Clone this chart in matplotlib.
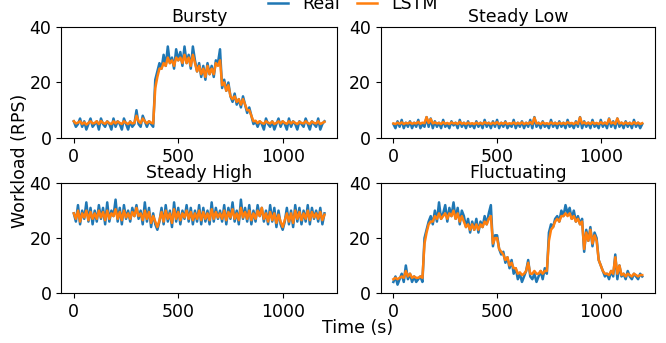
import numpy as np
from matplotlib import pyplot as plt

plt.rcParams['font.size'] = 12.5

# time axis, one sample every 10 s
time = np.arange(0, 1201, 10)

titles = ['Bursty', 'Steady Low', 'Steady High', 'Fluctuating']

bursty_real = [
    6, 4, 5, 7, 4, 6, 3, 5, 7, 4,
    5, 6, 3, 7, 5, 4, 6, 5, 3, 7,
    4, 6, 5, 3, 7, 5, 3, 6, 4, 5,
    10, 5, 4, 8, 6, 4, 6, 5, 4, 21,
    24, 27, 25, 30, 26, 33, 27, 29, 25, 32,
    28, 31, 26, 33, 27, 30, 25, 33, 28, 24,
    27, 22, 26, 21, 27, 23, 26, 22, 28, 27,
    32, 18, 21, 17, 20, 15, 13, 16, 12, 14,
    11, 15, 12, 9, 11, 8, 5, 6, 4, 6,
    5, 3, 7, 5, 4, 6, 3, 5, 7, 4,
    6, 5, 3, 7, 4, 6, 5, 3, 6, 5,
    4, 7, 5, 3, 6, 5, 4, 7, 3, 5,
    6]
bursty_lstm = [
    6, 5.2, 5.5, 6, 5, 5.6, 4.8, 5.4, 6, 5.2,
    5.4, 6, 5, 6.1, 5.4, 5.1, 5.9, 5.3, 5, 6,
    5.2, 5.9, 5.4, 5, 6, 5.4, 5, 5.8, 5.2, 5.4,
    8, 6, 5.3, 7, 6, 5.2, 6, 5.5, 5.2, 18,
    22, 25, 25, 27, 26, 29, 27, 28, 26, 29,
    28, 29, 27, 30, 27, 29, 26, 30, 27, 24,
    26, 23, 25, 22, 26, 23, 25, 23, 27, 26,
    28, 19, 20, 17, 19, 15, 14, 15, 13, 14,
    12, 14, 12, 10, 10, 8, 6, 6.2, 5.3, 6,
    5.4, 5.1, 6, 5.5, 5.2, 5.9, 5, 5.4, 6, 5.2,
    6, 5.4, 5.1, 6, 5.2, 5.9, 5.4, 5, 5.8, 5.4,
    5.2, 6, 5.4, 5, 5.9, 5.4, 5.2, 6, 5, 5.4,
    5.8]

steady_low_real = [
    5, 3.5, 6, 4, 6.5, 3.5, 5.5, 4, 6, 3.5,
    5.5, 4, 6.5, 3.5, 5, 4, 7.5, 4, 7, 3.5,
    6, 4, 5.5, 3.5, 6.5, 4, 5, 3.5, 6, 4.5,
    5.5, 3.5, 6.5, 4, 5.5, 3.5, 6, 4, 5, 3.5,
    6, 4, 5.5, 3.5, 6.5, 4, 5.5, 3.5, 6, 4,
    6.5, 3.5, 5.5, 4, 6, 3.5, 5, 4, 6.5, 3.5,
    5.5, 4, 6, 3.5, 5.5, 4, 6.5, 3.5, 7.5, 4,
    5.5, 3.5, 6, 4, 5, 3.5, 6.5, 4, 5.5, 3.5,
    6, 4, 5.5, 3.5, 6.5, 4, 5, 3.5, 6, 4,
    7.5, 3.5, 6, 4, 5.5, 3.5, 6.5, 4, 5, 3.5,
    6.5, 4, 5.5, 3.5, 7, 4, 6, 3.5, 7, 4,
    5.5, 3.5, 6, 4, 5.5, 3.5, 6.5, 4, 5.5, 3.5,
    5]
steady_low_lstm = [
    5.2, 5, 5.5, 5.1, 5.6, 5, 5.4, 5.2, 5.6, 5.1,
    5.4, 5.2, 5.8, 5.1, 5.5, 5.3, 7.5, 5.4, 6.8, 5.2,
    5.6, 5.2, 5.4, 5, 5.7, 5.1, 5.4, 5, 5.6, 5.2,
    5.4, 5, 5.8, 5.1, 5.4, 5, 5.5, 5.1, 5.3, 5,
    5.5, 5.1, 5.4, 5, 5.7, 5.2, 5.4, 5, 5.5, 5.1,
    5.7, 5, 5.4, 5.1, 5.6, 5, 5.3, 5.1, 5.6, 5,
    5.4, 5.1, 5.6, 5, 5.4, 5.1, 5.7, 5, 7.3, 5.2,
    5.4, 5, 5.6, 5.1, 5.3, 5, 5.6, 5.1, 5.4, 5,
    5.5, 5.1, 5.4, 5, 5.7, 5.2, 5.4, 5, 5.6, 5.1,
    7.4, 5.2, 5.6, 5.1, 5.5, 5, 5.7, 5.1, 5.4, 5,
    5.7, 5.1, 5.5, 5, 6.8, 5.2, 5.6, 5, 7, 5.2,
    5.5, 5, 5.6, 5.1, 5.4, 5, 5.7, 5.1, 5.5, 5,
    5.3]

steady_high_real = [
    29, 26, 32, 25, 30, 27, 33, 26, 31, 25,
    30, 26, 32, 27, 31, 25, 33, 26, 30, 28,
    34, 26, 31, 25, 32, 27, 30, 26, 31, 28,
    32, 27, 30, 25, 33, 26, 31, 24, 29, 25,
    23, 26, 31, 25, 32, 26, 30, 24, 33, 26,
    31, 25, 30, 27, 32, 26, 31, 25, 30, 26,
    32, 25, 31, 26, 30, 25, 33, 26, 31, 27,
    30, 26, 32, 25, 31, 27, 33, 26, 30, 25,
    34, 27, 31, 26, 32, 25, 30, 26, 32, 28,
    31, 26, 30, 25, 32, 26, 31, 24, 30, 25,
    23, 26, 31, 25, 30, 24, 32, 26, 31, 25,
    30, 26, 32, 25, 31, 27, 30, 26, 31, 25,
    29]
steady_high_lstm = [
    29, 27, 30, 26, 29, 27.5, 30, 26.5, 29.5, 27,
    29, 27, 30, 27.5, 29.5, 26.5, 30, 27, 29, 28,
    30.5, 27, 29.5, 26.5, 30, 27.5, 29, 27, 29.5, 28,
    31, 28, 29, 26.5, 30, 27, 29.5, 25.5, 28, 26,
    24, 26.5, 29.5, 26, 30, 27, 29, 25.5, 30.5, 27,
    29.5, 26.5, 29, 27.5, 30, 27, 29.5, 26.5, 29, 27,
    30, 26.5, 29.5, 27, 29, 26.5, 30.5, 27, 29.5, 27.5,
    29, 27, 30, 26.5, 29.5, 27.5, 30.5, 27, 29, 26.5,
    31, 27.5, 29.5, 27, 30, 26.5, 29, 27, 30, 28,
    31, 27, 29, 26, 29.5, 26.5, 29, 25.5, 28.5, 26,
    24, 26.5, 29, 26, 29, 25.5, 30, 27, 29.5, 26.5,
    29, 27, 30, 26.5, 29.5, 27.5, 29, 27, 29.5, 26.5,
    28.5]

fluct_real = [
    4, 6, 3, 5, 7, 4, 10, 5, 7, 4,
    6, 4, 5, 6, 4, 20, 23, 26, 28, 25,
    30, 26, 33, 27, 29, 32, 26, 31, 28, 33,
    27, 31, 25, 30, 28, 24, 27, 22, 26, 23,
    27, 22, 26, 24, 28, 25, 29, 32, 17, 21,
    21, 16, 14, 15, 11, 13, 9, 12, 7, 9,
    5, 7, 4, 6, 8, 12, 6, 5, 7, 4,
    6, 8, 5, 9, 7, 22, 25, 24, 27, 28,
    26, 30, 28, 32, 29, 31, 27, 30, 26, 28,
    25, 27, 15, 23, 19, 24, 17, 22, 20, 12,
    10, 8, 6, 7, 5, 8, 6, 14, 5, 10,
    6, 7, 5, 8, 6, 5, 7, 6, 5, 7,
    6]
fluct_lstm = [
    5, 5.5, 5, 5.5, 6, 5.5, 8, 6, 7, 5.5,
    6, 5.5, 5.5, 6, 5.5, 18, 22, 25, 26, 26,
    28, 27, 29, 27, 28, 29, 27, 29, 28, 30,
    27, 29, 26, 28, 26, 24, 25, 23, 25, 23,
    25, 23, 25, 24, 26, 25, 27, 28, 18, 20,
    20, 16, 15, 14, 12, 13, 10, 11, 9, 9,
    7, 7.5, 6.5, 7, 8, 11, 7, 7, 8, 7,
    7, 8, 7, 8, 8, 19, 23, 24, 26, 27,
    26, 28, 28, 29, 28, 29, 27, 28, 26, 27,
    25, 26, 16, 22, 19, 23, 18, 21, 19, 12,
    10, 8, 7, 7, 6.5, 8, 7, 13, 7, 10,
    6.5, 7, 6, 7, 6.5, 6, 7, 6.5, 6, 6.5,
    6.5]

real = [bursty_real, steady_low_real, steady_high_real, fluct_real]
lstm = [bursty_lstm, steady_low_lstm, steady_high_lstm, fluct_lstm]

fig = plt.figure(figsize=(6.66, 3.43), dpi=100)

boxes = [[0.092, 0.598, 0.414, 0.323],
         [0.572, 0.598, 0.411, 0.323],
         [0.092, 0.146, 0.414, 0.32],
         [0.572, 0.146, 0.411, 0.32]]

for i in range(4):
    ax = fig.add_axes(boxes[i])
    ax.plot(time, real[i], color='tab:blue', linewidth=1.8, label='Real')
    ax.plot(time, lstm[i], color='tab:orange', linewidth=1.8, label='LSTM')
    ax.set_ylim(0, 40)
    ax.set_yticks([0, 20, 40])
    ax.set_xticks([0, 500, 1000])
    ax.set_title(titles[i], fontsize=12.5, pad=4)
    if i == 0:
        handles, labels = ax.get_legend_handles_labels()

fig.legend(handles, labels, loc='center', bbox_to_anchor=(0.53, 0.988), ncol=2,
           frameon=False, handlelength=1.15, columnspacing=1.0)
fig.text(0.537, 0.044, 'Time (s)', ha='center', va='center')
fig.text(0.03, 0.53, 'Workload (RPS)', ha='center', va='center', rotation=90)

fig.savefig('out.png', dpi=100)
